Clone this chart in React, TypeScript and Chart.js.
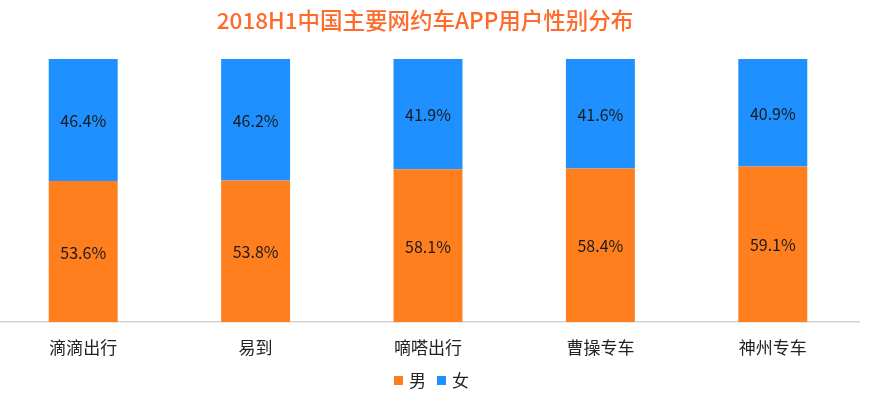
import React, { useEffect, useRef } from "react";
import { Chart, registerables } from "chart.js";

Chart.register(...registerables);

const TITLE = "2018H1中国主要网约车APP用户性别分布";
const categories = ["滴滴出行", "易到", "嘀嗒出行", "曹操专车", "神州专车"];
const maleValues = [53.6, 53.8, 58.1, 58.4, 59.1];
const femaleValues = [46.4, 46.2, 41.9, 41.6, 40.9];
const seriesNames = ["男", "女"];
const seriesColors = ["#FF7F1E", "#1E90FF"];

const FONT = '"Noto Sans CJK SC", "Noto Sans", sans-serif';

const overlayPlugin = {
  id: "overlay",
  afterDatasetsDraw(chart: any) {
    const ctx = chart.ctx;
    ctx.save();
    // value labels
    ctx.font = `16px ${FONT}`;
    ctx.fillStyle = "#1a1a1a";
    ctx.textAlign = "center";
    ctx.textBaseline = "middle";
    chart.data.datasets.forEach((ds: any, i: number) => {
      const meta = chart.getDatasetMeta(i);
      meta.data.forEach((bar: any, j: number) => {
        const p = bar.getProps(["x", "y", "base"], true);
        ctx.fillText(ds.data[j].toFixed(1) + "%", p.x, (p.y + p.base) / 2 + 1);
      });
    });
    // title
    ctx.font = `500 22.5px ${FONT}`;
    ctx.fillStyle = "#FF6A2A";
    ctx.fillText(TITLE, 428, 20);
    // legend
    ctx.font = `17px ${FONT}`;
    ctx.textAlign = "left";
    const items = [
      { x: 397, tx: 412 },
      { x: 440, tx: 455 },
    ];
    chart.data.datasets.forEach((ds: any, i: number) => {
      const it = items[i];
      ctx.fillStyle = ds.backgroundColor;
      ctx.fillRect(it.x, 376, 9, 9);
      ctx.fillStyle = "#222";
      ctx.fillText(ds.label, it.tx, 381);
    });
    ctx.restore();
  },
};

export default function App() {
  const ref = useRef<HTMLCanvasElement>(null);
  useEffect(() => {
    if (!ref.current) return;
    const chart = new Chart(ref.current, {
      type: "bar",
      data: {
        labels: categories,
        datasets: [
          {
            label: seriesNames[0],
            data: maleValues,
            backgroundColor: seriesColors[0],
            barPercentage: 0.4,
            categoryPercentage: 1,
          },
          {
            label: seriesNames[1],
            data: femaleValues,
            backgroundColor: seriesColors[1],
            barPercentage: 0.4,
            categoryPercentage: 1,
          },
        ],
      },
      options: {
        animation: false,
        responsive: true,
        maintainAspectRatio: false,
        layout: { padding: { top: 59, left: 0, right: 22, bottom: 0 } },
        plugins: {
          legend: { display: false },
          title: { display: false },
          tooltip: { enabled: false },
        },
        scales: {
          x: {
            stacked: true,
            grid: { display: false, drawTicks: false },
            border: { display: true, color: "#d4d4d4", width: 1.5 },
            ticks: {
              padding: 15,
              color: "#222",
              font: { size: 17, family: FONT },
              maxRotation: 0,
            },
            afterFit: (scale: any) => {
              scale.height = 84;
            },
          },
          y: {
            stacked: true,
            display: false,
            min: 0,
            max: 100,
          },
        },
      },
      plugins: [overlayPlugin],
    });
    return () => chart.destroy();
  }, []);
  return (
    <div style={{ position: "absolute", left: -3, top: 0, width: 884, height: 406 }}>
      <canvas ref={ref} />
    </div>
  );
}
